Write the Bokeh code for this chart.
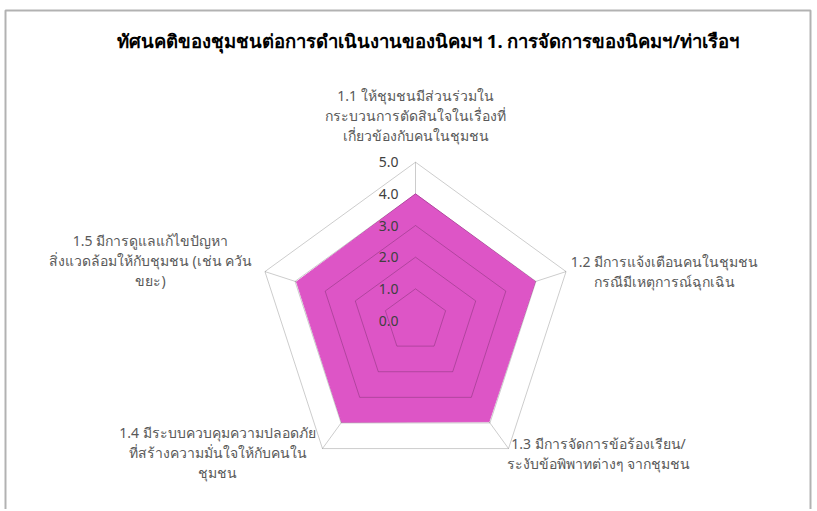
import numpy as np
from bokeh.plotting import figure
from bokeh.models import Range1d, BoxAnnotation
from bokeh.embed import file_html
from bokeh.resources import INLINE
from bokeh.core.properties import value

# ---------------- data ----------------
title = "ทัศนคติของชุมชนต่อการดำเนินงานของนิคมฯ  1. การจัดการของนิคมฯ/ท่าเรือฯ"
categories = [
    "1.1 ให้ชุมชนมีส่วนร่วมใน\nกระบวนการตัดสินใจในเรื่องที่\nเกี่ยวข้องกับคนในชุมชน",
    "1.2 มีการแจ้งเตือนคนในชุมชน\nกรณีมีเหตุการณ์ฉุกเฉิน",
    "1.3 มีการจัดการข้อร้องเรียน/\nระงับข้อพิพาทต่างๆ จากชุมชน",
    "1.4 มีระบบควบคุมความปลอดภัย\nที่สร้างความมั่นใจให้กับคนใน\nชุมชน",
    "1.5 มีการดูแลแก้ไขปัญหา\nสิ่งแวดล้อมให้กับชุมชน (เช่น ควัน\nขยะ)",
]
scores = [4.0, 3.98, 3.95, 3.97, 3.95]
ticks = [0, 1, 2, 3, 4, 5]
tick_labels = ["0.0", "1.0", "2.0", "3.0", "4.0", "5.0"]

# ---------------- layout ----------------
OFF = 0                         # observed page offset of the canvas
W, H = 815, 509
U = 31.66                       # pixels per value unit
PX_CX, PX_CY = 415, 320         # centre in page px
FONT = "Noto Sans"

def dx(page_x):
    return (page_x - PX_CX) / U

def dy(page_y):
    return (PX_CY - page_y) / U

cx_c = PX_CX - OFF
cy_c = H - (PX_CY - OFF)
p = figure(width=W, height=H, output_backend="svg", toolbar_location=None,
           x_range=Range1d(-cx_c / U, (W - cx_c) / U),
           y_range=Range1d(-cy_c / U, (H - cy_c) / U),
           min_border=0, min_border_left=0, min_border_right=0,
           min_border_top=0, min_border_bottom=0)
p.axis.visible = False
p.grid.visible = False
p.outline_line_color = None
p.background_fill_color = "white"
p.border_fill_color = "white"

n = len(categories)
ang = np.pi / 2 - np.arange(n) * 2 * np.pi / n
rmax = max(ticks)

# spokes (under the fill)
p.multi_line([[0, rmax * np.cos(a)] for a in ang],
             [[0, rmax * np.sin(a)] for a in ang],
             line_color="black", line_alpha=0.2, line_width=1)

# filled series
sx = list(np.array(scores) * np.cos(ang))
sy = list(np.array(scores) * np.sin(ang))
p.patch(sx, sy, fill_color="#DD55C6", line_color="#DD55C6", line_width=1)

# rings (drawn over the fill)
for t in ticks[1:]:
    xs = list(t * np.cos(ang)) + [t * np.cos(ang[0])]
    ys = list(t * np.sin(ang)) + [t * np.sin(ang[0])]
    p.line(xs, ys, line_color="black", line_alpha=0.2, line_width=1)

# tick labels along top spoke
p.text(x=[dx(398)] * len(ticks), y=[float(t) for t in ticks], text=tick_labels,
       text_align="right", text_baseline="middle",
       text_font=value(FONT), text_font_size="14px", text_color="#404040")

# category labels (anchor centre of first line, page px)
anchors = [(415, 95), (664, 261), (598, 443), (217, 432), (150, 240)]
gap = 20
lx, ly, lt = [], [], []
for (ax_, ay_), cat in zip(anchors, categories):
    for k, line in enumerate(cat.split("\n")):
        lx.append(dx(ax_))
        ly.append(dy(ay_ + k * gap))
        lt.append(line)
p.text(x=lx, y=ly, text=lt, text_align="center", text_baseline="middle",
       text_font=value(FONT), text_font_size="14px", text_color="#595959")

# title
p.text(x=[dx(430)], y=[dy(40)], text=[title], text_align="center",
       text_baseline="middle", text_font=value(FONT), text_font_size="18.5px",
       text_font_style="bold", text_color="#000000")

# chart frame
p.add_layout(BoxAnnotation(left=dx(5), right=dx(810), top=dy(10), bottom=dy(700),
                           fill_alpha=0, line_color="black", line_width=2))

open("out.html", "w").write(file_html(p, INLINE))
